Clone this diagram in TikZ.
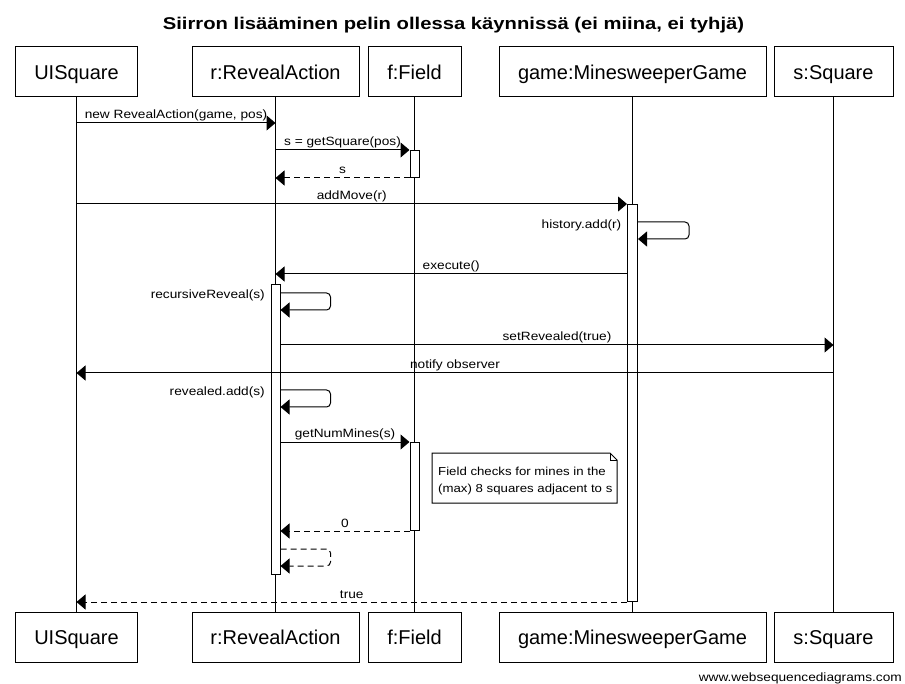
\documentclass[tikz,border=0pt]{standalone}
\usepackage{fontspec}
\setmainfont{Liberation Sans}
\newfontfamily\lblfont[FakeStretch=1.14]{Liberation Sans}
\newfontfamily\ttlfont[FakeStretch=1.19]{Liberation Sans}
\usetikzlibrary{arrows.meta}
\begin{document}
\begin{tikzpicture}[x=1pt,y=-1pt,
  part/.style={draw, line width=1pt, minimum height=50pt, inner sep=0pt, text height=18pt, text depth=3.4pt, font=\fontsize{20}{24}\selectfont},
  act/.style={draw, line width=1pt, fill=white, minimum width=9pt, inner sep=0pt, anchor=north},
  msg/.style={-{Triangle[length=9pt,width=15pt]}, line width=1pt},
  ret/.style={msg, dash pattern=on 6pt off 4pt},
  lbl/.style={font=\lblfont\fontsize{12}{14}\selectfont, inner sep=0pt, anchor=base},
  notetxt/.style={font=\lblfont\fontsize{11.6}{14}\selectfont, inner sep=0pt, anchor=base west},
  life/.style={line width=1pt}]
\useasboundingbox (0,0) rectangle (905,684);
% title
\node[anchor=base, inner sep=0pt, font=\ttlfont\bfseries\fontsize{17}{20}\selectfont] (title) at (453.5,29.5) {Siirron lisääminen pelin ollessa käynnissä (ei miina, ei tyhjä)};
% participants
\node[part, minimum width=122pt] (uT) at (76.5,72) {UISquare};
\node[part, minimum width=167pt] (rT) at (275.5,72) {r:RevealAction};
\node[part, minimum width=93pt] (fT) at (414.5,72) {f:Field};
\node[part, minimum width=267pt] (gT) at (632.5,72) {game:MinesweeperGame};
\node[part, minimum width=119pt] (sT) at (833.5,72) {s:Square};
\node[part, minimum width=122pt] (uB) at (76.5,637) {UISquare};
\node[part, minimum width=167pt] (rB) at (275.5,637) {r:RevealAction};
\node[part, minimum width=93pt] (fB) at (414.5,637) {f:Field};
\node[part, minimum width=267pt] (gB) at (632.5,637) {game:MinesweeperGame};
\node[part, minimum width=119pt] (sB) at (833.5,637) {s:Square};
% lifelines
\draw[life] (uT) -- (uB);
\draw[life] (rT) -- (rB);
\draw[life] (fT) -- (fB);
\draw[life] (gT) -- (gB);
\draw[life] (sT) -- (sB);
% activations
\node[act, minimum height=27pt] (fa1) at (414.5,150) {};
\node[act, minimum height=88pt] (fa2) at (414.5,442) {};
\node[act, minimum height=290pt] (ra) at (275.5,284) {};
\node[act, minimum width=10pt, minimum height=397pt] (ga) at (632.5,204) {};
% messages
\draw[msg] (uT.south |- 0,123) -- (rT.south |- 0,123) node[lbl, pos=0.5, yshift=4pt] {new RevealAction(game, pos)};
\draw[msg] (rT.south |- 0,150) -- (fa1.north west) node[lbl, pos=0.5, yshift=4pt] {s = getSquare(pos)};
\draw[ret] (fa1.south west) -- (rT.south |- fa1.south west) node[lbl, pos=0.5, yshift=4pt] {s};
\draw[msg] (uT.south |- 0,204) -- (ga.north west) node[lbl, pos=0.5, yshift=4pt] {addMove(r)};
\draw[msg, rounded corners=4pt] (ga.east |- 0,222) -- ++(51,0) -- ++(0,17) -- ++(-51,0);
\node[lbl, anchor=base east] (l5) at ([xshift=-5.5pt]ga.west |- 0,228.5) {history.add(r)};
\draw[msg] (ga.west |- 0,274) -- (rT.south |- 0,274) node[lbl, pos=0.5, yshift=4pt] {execute()};
\draw[msg, rounded corners=4pt] (ra.east |- 0,293) -- ++(50,0) -- ++(0,17) -- ++(-50,0);
\node[lbl, anchor=base east] (l7) at ([xshift=-5.5pt]ra.west |- 0,298.5) {recursiveReveal(s)};
\draw[msg] (ra.east |- 0,345) -- (sT.south |- 0,345) node[lbl, pos=0.5, yshift=4pt] {setRevealed(true)};
\draw[msg] (sT.south |- 0,373) -- (uT.south |- 0,373) node[lbl, pos=0.5, yshift=4pt] {notify observer};
\draw[msg, rounded corners=4pt] (ra.east |- 0,390) -- ++(50,0) -- ++(0,17) -- ++(-50,0);
\node[lbl, anchor=base east] (l10) at ([xshift=-5.5pt]ra.west |- 0,395.5) {revealed.add(s)};
\draw[msg] (ra.east |- fa2.north west) -- (fa2.north west) node[lbl, pos=0.5, yshift=4pt] {getNumMines(s)};
\draw[ret] (fa2.south west) -- (ra.east |- fa2.south west) node[lbl, pos=0.5, yshift=4pt] {0};
\draw[ret, rounded corners=4pt] (ra.east |- 0,549) -- ++(50,0) -- ++(0,17) -- ++(-50,0);
\draw[ret] (ga.south west) -- (uT.south |- ga.south west) node[lbl, pos=0.5, yshift=4pt] {true};
% note
\draw[line width=1pt, fill=white] (432,453) -- (610,453) -- (617,460) -- (617,503) -- (432,503) -- cycle;
\draw[line width=1pt] (610,453) -- (610,460) -- (617,460);
\node[notetxt] (note1) at (438,475.5) {Field checks for mines in the};
\node[notetxt] (note2) at (438,492) {(max) 8 squares adjacent to s};
% footer
\node[lbl, anchor=base east] (web) at (902,681) {www.websequencediagrams.com};
\end{tikzpicture}
\end{document}
